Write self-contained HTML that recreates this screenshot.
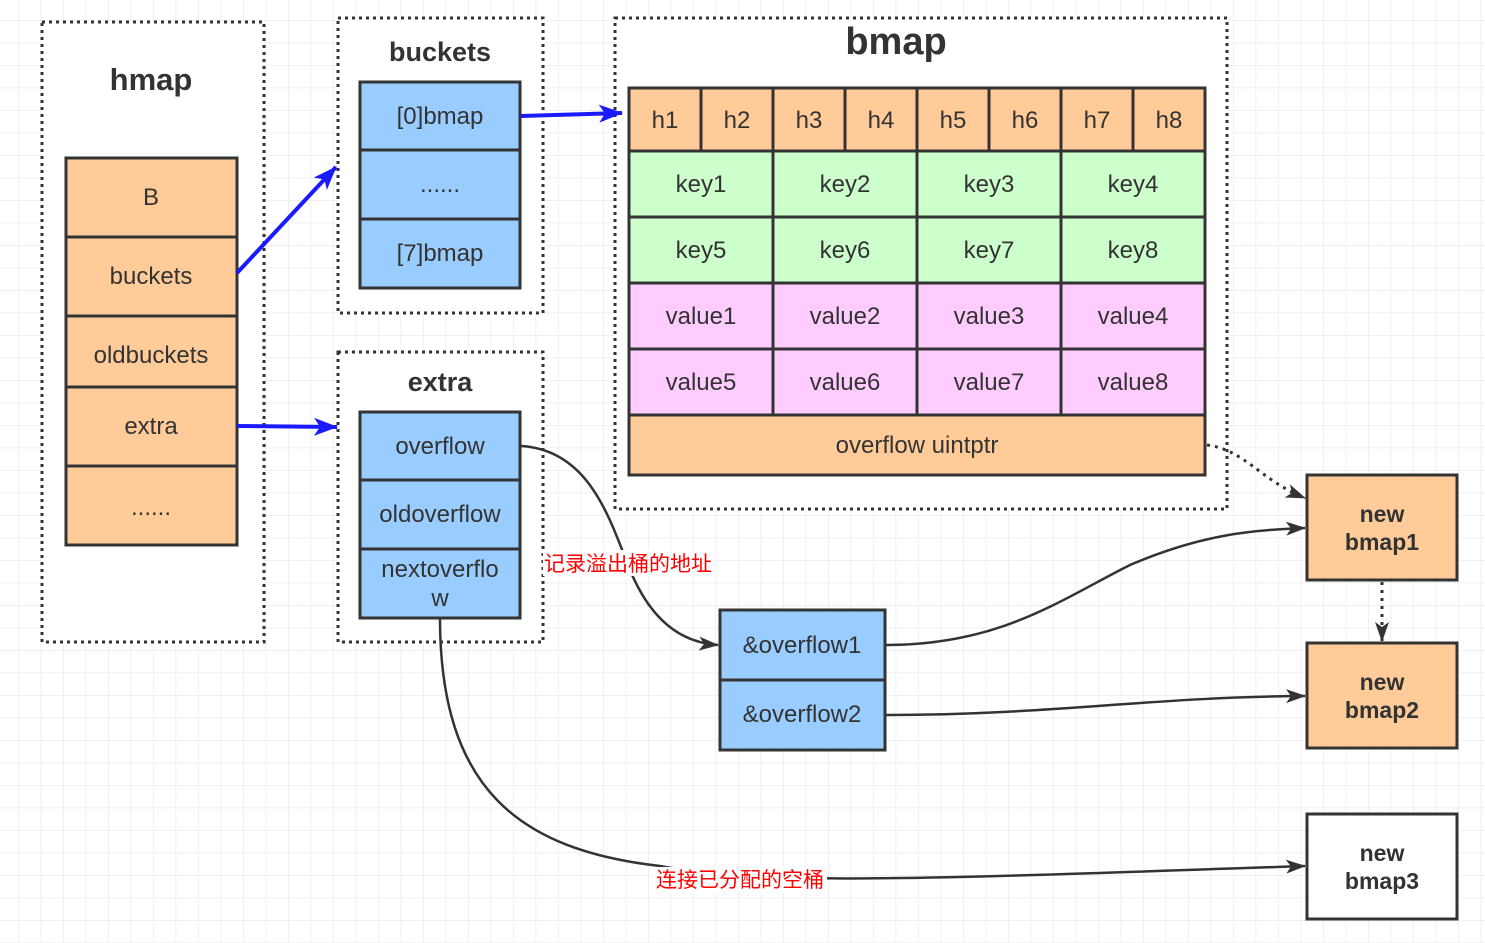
<!DOCTYPE html>
<html><head><meta charset="utf-8"><style>
html,body{margin:0;padding:0;background:#fff}
svg{display:block}
text{font-family:"Liberation Sans","Noto Sans CJK SC",sans-serif;fill:#333}
</style></head><body>
<svg width="1485" height="943" viewBox="0 0 1485 943" xmlns="http://www.w3.org/2000/svg">
<defs>
<pattern id="g" x="18" y="20" width="22.5" height="22.5" patternUnits="userSpaceOnUse">
<path d="M0 0H22.5M0 0V22.5" stroke="#ebebeb" stroke-width="1.5" fill="none"/>
</pattern>
<marker id="ab" viewBox="0 0 24 18" markerWidth="24" markerHeight="18" refX="23" refY="9" orient="auto" markerUnits="userSpaceOnUse"><path d="M0,0 L24,9 L0,18 L6,9z" fill="#1a1aff"/></marker>
<marker id="ak" viewBox="0 0 20 14" markerWidth="20" markerHeight="14" refX="19" refY="7" orient="auto" markerUnits="userSpaceOnUse"><path d="M0,0 L20,7 L0,14 L5,7z" fill="#333"/></marker>
</defs>
<rect width="1485" height="943" fill="url(#g)"/>
<g fill="#fff" stroke="#333" stroke-width="3" stroke-dasharray="3,4">
<rect x="42" y="22" width="222" height="620"/>
<rect x="338" y="18" width="205" height="295"/>
<rect x="338" y="352" width="205" height="290"/>
<rect x="615" y="18" width="612" height="491"/>
</g>
<g font-weight="bold" text-anchor="middle">
<text x="151" y="90" font-size="31">hmap</text>
<text x="440" y="61" font-size="27">buckets</text>
<text x="440" y="391" font-size="27">extra</text>
<text x="896" y="54" font-size="38">bmap</text>
</g>
<g stroke="#333" stroke-width="3">
<g fill="#FFCC99">
<rect x="66" y="158" width="171" height="79"/><rect x="66" y="237" width="171" height="79"/><rect x="66" y="316" width="171" height="71"/><rect x="66" y="387" width="171" height="79"/><rect x="66" y="466" width="171" height="79"/>
</g>
<g fill="#99CCFF">
<rect x="360" y="82" width="160" height="68"/><rect x="360" y="150" width="160" height="69"/><rect x="360" y="219" width="160" height="69"/>
<rect x="360" y="412" width="160" height="68"/><rect x="360" y="480" width="160" height="69"/><rect x="360" y="549" width="160" height="69"/>
<rect x="720" y="610" width="165" height="70"/><rect x="720" y="680" width="165" height="70"/>
</g>
<g fill="#FFCC99">
<rect x="629" y="88" width="72" height="63"/><rect x="701" y="88" width="72" height="63"/><rect x="773" y="88" width="72" height="63"/><rect x="845" y="88" width="72" height="63"/><rect x="917" y="88" width="72" height="63"/><rect x="989" y="88" width="72" height="63"/><rect x="1061" y="88" width="72" height="63"/><rect x="1133" y="88" width="72" height="63"/>
<rect x="629" y="415" width="576" height="60"/>
<rect x="1307" y="475" width="150" height="105"/><rect x="1307" y="643" width="150" height="105"/>
</g>
<rect x="1307" y="814" width="150" height="105" fill="#fff"/>
<g fill="#CCFFCC">
<rect x="629" y="151" width="144" height="66"/><rect x="773" y="151" width="144" height="66"/><rect x="917" y="151" width="144" height="66"/><rect x="1061" y="151" width="144" height="66"/>
<rect x="629" y="217" width="144" height="66"/><rect x="773" y="217" width="144" height="66"/><rect x="917" y="217" width="144" height="66"/><rect x="1061" y="217" width="144" height="66"/>
</g>
<g fill="#FFCCFF">
<rect x="629" y="283" width="144" height="66"/><rect x="773" y="283" width="144" height="66"/><rect x="917" y="283" width="144" height="66"/><rect x="1061" y="283" width="144" height="66"/>
<rect x="629" y="349" width="144" height="66"/><rect x="773" y="349" width="144" height="66"/><rect x="917" y="349" width="144" height="66"/><rect x="1061" y="349" width="144" height="66"/>
</g>
</g>
<g font-size="24" text-anchor="middle">
<text x="151" y="205">B</text><text x="151" y="284">buckets</text><text x="151" y="363">oldbuckets</text><text x="151" y="434">extra</text><text x="151" y="515">......</text>
<text x="440" y="124">[0]bmap</text><text x="440" y="192">......</text><text x="440" y="261">[7]bmap</text>
<text x="440" y="454">overflow</text><text x="440" y="522">oldoverflow</text><text x="440" y="577">nextoverflo</text><text x="440" y="606">w</text>
<text x="802" y="653">&amp;overflow1</text><text x="802" y="722">&amp;overflow2</text>
<text x="665" y="128">h1</text><text x="737" y="128">h2</text><text x="809" y="128">h3</text><text x="881" y="128">h4</text><text x="953" y="128">h5</text><text x="1025" y="128">h6</text><text x="1097" y="128">h7</text><text x="1169" y="128">h8</text>
<text x="701" y="192">key1</text><text x="845" y="192">key2</text><text x="989" y="192">key3</text><text x="1133" y="192">key4</text>
<text x="701" y="258">key5</text><text x="845" y="258">key6</text><text x="989" y="258">key7</text><text x="1133" y="258">key8</text>
<text x="701" y="324">value1</text><text x="845" y="324">value2</text><text x="989" y="324">value3</text><text x="1133" y="324">value4</text>
<text x="701" y="390">value5</text><text x="845" y="390">value6</text><text x="989" y="390">value7</text><text x="1133" y="390">value8</text>
<text x="917" y="453">overflow uintptr</text>
</g>
<g font-size="23" font-weight="bold" text-anchor="middle">
<text x="1382" y="522">new</text><text x="1382" y="550">bmap1</text>
<text x="1382" y="690">new</text><text x="1382" y="718">bmap2</text>
<text x="1382" y="861">new</text><text x="1382" y="889">bmap3</text>
</g>
<g stroke="#1a1aff" stroke-width="4" fill="none" marker-end="url(#ab)">
<path d="M237,273 L336,167"/>
<path d="M237,426 L337,427"/>
<path d="M521,116 L622,113"/>
</g>
<g stroke="#333" stroke-width="2.5" fill="none" marker-end="url(#ak)">
<path d="M521,446 C590,450 610,520 630,570 C655,630 690,643 718,645"/>
<path d="M440,618 C440,790 520,850 660,866 C760,885 900,880 1305,866"/>
<path d="M886,645 C1000,645 1060,600 1130,565 C1200,535 1250,530 1305,528"/>
<path d="M886,715 C1050,715 1150,697 1305,696"/>
<path d="M1207,445 C1245,450 1260,480 1305,498" stroke-dasharray="3,5" stroke-width="3"/>
<path d="M1382,582 L1382,641" stroke-dasharray="3,5" stroke-width="3"/>
</g>
<rect x="543" y="550" width="170" height="26" fill="#fff"/>
<text x="628" y="571" font-size="21" text-anchor="middle" style="fill:#f00">记录溢出桶的地址</text>
<rect x="653" y="867" width="174" height="26" fill="#fff"/>
<text x="740" y="887" font-size="21" text-anchor="middle" style="fill:#f00">连接已分配的空桶</text>
</svg>
</body></html>
